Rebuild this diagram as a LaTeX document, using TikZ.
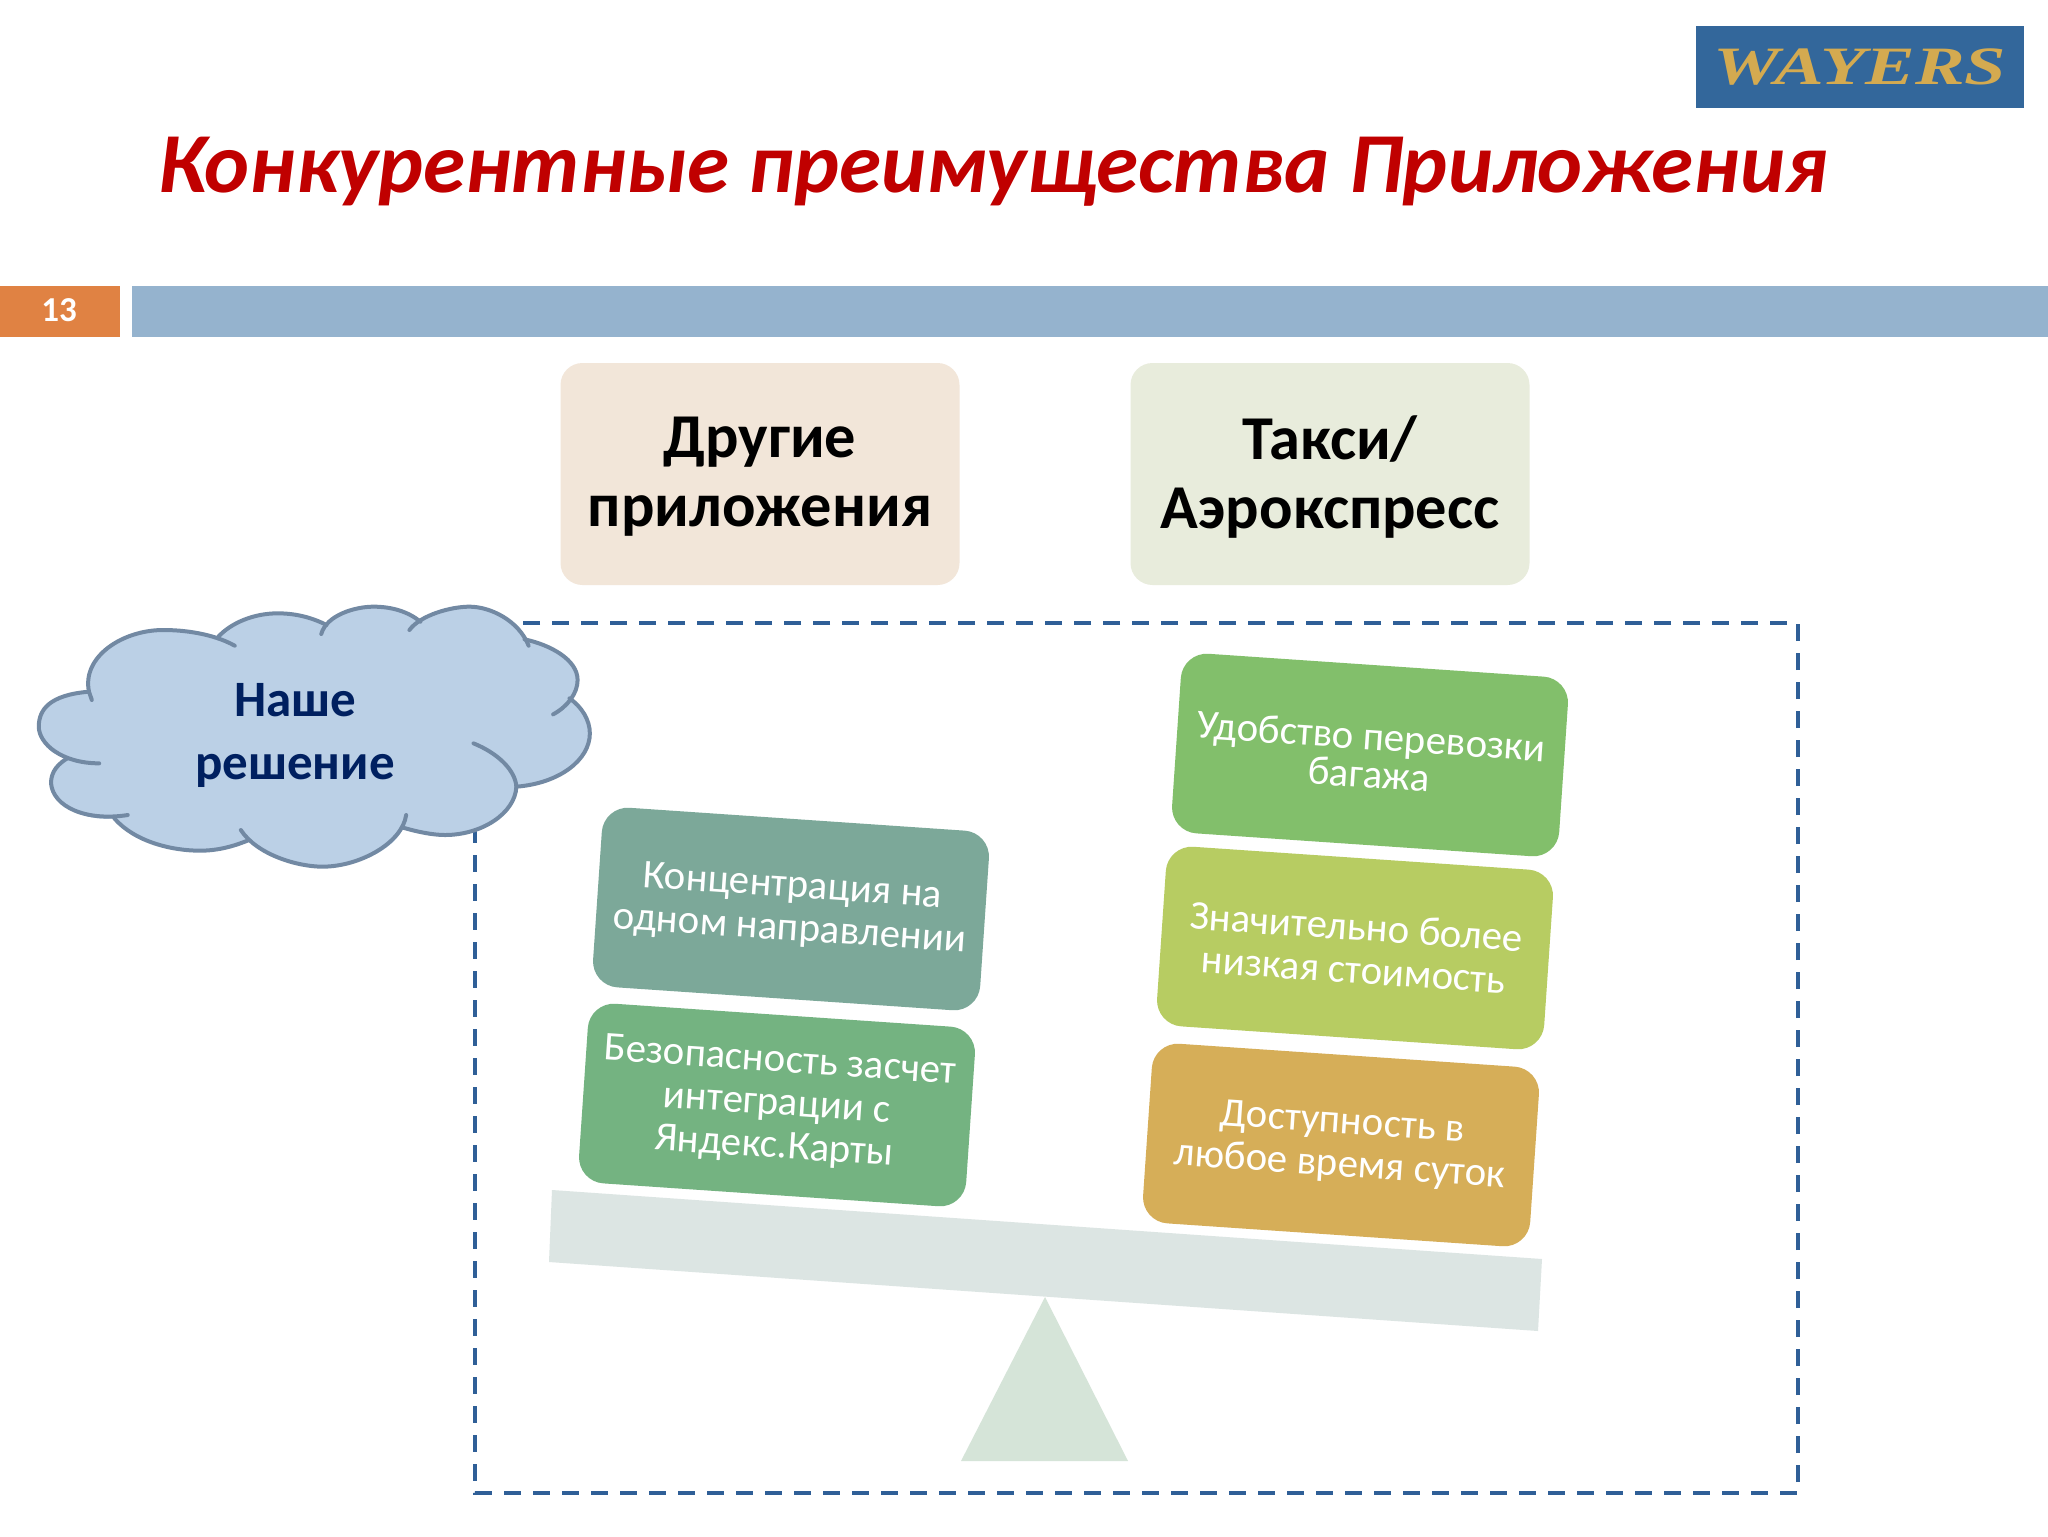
\documentclass[tikz,border=0pt]{standalone}
\usepackage{fontspec}
\setmainfont{Carlito}
\newfontfamily\logofont{Liberation Serif}
\begin{document}
\begin{tikzpicture}[x=0.5pt,y=-0.5pt,
 titletext/.style={font=\fontsize{42.7}{48}\selectfont\bfseries\itshape,text=titlered,anchor=base west,inner sep=0},
 headbox/.style={rounded corners=11pt,minimum width=199.5pt,minimum height=111pt,text width=190pt,align=center,font=\fontsize{31.2}{34.5}\selectfont\bfseries,inner sep=0},
 tiltbox/.style={rounded corners=13pt,minimum width=194pt,minimum height=90pt,text width=186pt,align=flush center,rotate=-3.9,text=white,font=\fontsize{20.4}{21.5}\selectfont,inner sep=0},
 cloudline/.style={draw=cloudedge,line width=2pt,line cap=round},
]
\definecolor{titlered}{HTML}{C00000}
\definecolor{barblue}{HTML}{95B3CE}
\definecolor{numorange}{HTML}{E08243}
\definecolor{logoblue}{HTML}{33679B}
\definecolor{logogold}{HTML}{D4AA50}
\definecolor{headA}{HTML}{F2E6D9}
\definecolor{headB}{HTML}{E8ECDC}
\definecolor{dashblue}{HTML}{2F5F97}
\definecolor{cloudfill}{HTML}{BBD0E6}
\definecolor{cloudedge}{HTML}{7289A3}
\definecolor{cloudtext}{HTML}{002060}
\definecolor{boxA}{HTML}{82BF6B}
\definecolor{boxB}{HTML}{B7CC62}
\definecolor{boxC}{HTML}{D6AE58}
\definecolor{boxD}{HTML}{7CA899}
\definecolor{boxE}{HTML}{74B381}
\definecolor{beamc}{HTML}{DCE5E3}
\definecolor{tric}{HTML}{D5E4D8}
\useasboundingbox (0,0) rectangle (2048,1536);
\fill[white] (0,0) rectangle (2048,1536);
% logo
\node[fill=logoblue,minimum width=164pt,minimum height=41pt,inner sep=0,text=logogold,font=\logofont\fontsize{27}{27}\selectfont\bfseries\itshape] (logo) at (1860,67) {\scalebox{1.38}[1]{WAYERS}};
% title
\node[titletext] (title) at (158,192) {Конкурентные преимущества Приложения};
% bar
\fill[numorange] (0,286) rectangle (120,337);
\fill[barblue] (132,286) rectangle (2048,337);
\node[text=white,font=\fontsize{17.5}{17.5}\selectfont\bfseries,inner sep=0] (num) at (59,310) {13};
% headers
\node[headbox,fill=headA] (h1) at (760,474) {\raisebox{-1.5pt}[\height][\depth]{\parbox{190pt}{\centering Другие\\приложения}}};
\node[headbox,fill=headB] (h2) at (1330,474) {\raisebox{-1.5pt}[\height][\depth]{\parbox{190pt}{\centering Такси/\\Аэрокспресс}}};
% dashed frame
\draw[dashblue,line width=2pt,dash pattern=on 8.5pt off 6pt] (475,623) rectangle (1798,1493);
% beam and triangle
\fill[beamc] (552,1190) -- (1542,1259) -- (1538,1331) -- (549,1262) -- cycle;
\fill[tric] (1045,1297) -- (1128,1461) -- (961,1461) -- cycle;
% boxes
\node[tiltbox,fill=boxA] (b1) at (1370,755) {Удобство перевозки\\[-2.5pt]багажа};
\node[tiltbox,fill=boxB] (b2) at (1355,948) {Значительно более\\низкая стоимость};
\node[tiltbox,fill=boxC] (b3) at (1341,1145) {Доступность в\\любое время суток};
\node[tiltbox,fill=boxD] (b4) at (791,909) {Концентрация на\\одном направлении};
\node[tiltbox,fill=boxE] (b5) at (777,1105) {Безопасность засчет\\интеграции с\\Яндекс.Карты};
% cloud
\begin{scope}[shift={(0,580)},x=0.2041pt,y=-0.16667pt]
\fill[cloudfill] (218,335) .. controls (120,345) and (95,390) .. (95,440)
 .. controls (95,490) and (125,525) .. (165,535)
 .. controls (130,560) and (125,590) .. (125,610)
 .. controls (130,680) and (210,725) .. (280,715)
 .. controls (330,785) and (420,812) .. (490,812)
 .. controls (540,812) and (580,795) .. (610,780)
 .. controls (650,835) and (730,860) .. (790,860)
 .. controls (880,860) and (965,810) .. (990,740)
 .. controls (1020,755) and (1060,765) .. (1090,765)
 .. controls (1180,765) and (1262,700) .. (1265,620)
 .. controls (1370,610) and (1445,540) .. (1445,460)
 .. controls (1445,420) and (1425,380) .. (1395,355)
 .. controls (1410,330) and (1415,310) .. (1415,300)
 .. controls (1415,240) and (1350,195) .. (1290,178)
 .. controls (1260,110) and (1200,80) .. (1150,80)
 .. controls (1105,80) and (1060,100) .. (1030,125)
 .. controls (1000,95) and (960,80) .. (915,80)
 .. controls (870,80) and (825,105) .. (800,135)
 .. controls (760,110) and (720,100) .. (680,100)
 .. controls (620,100) and (565,130) .. (535,170)
 .. controls (500,155) and (450,150) .. (400,150)
 .. controls (300,150) and (200,230) .. (218,335) -- cycle;
\draw[cloudline] (225,360) -- (218,335) .. controls (120,345) and (95,390) .. (95,440)
 .. controls (95,490) and (150,550) .. (243,550);
\draw[cloudline] (165,535) .. controls (130,560) and (125,590) .. (125,610)
 .. controls (130,680) and (210,725) .. (313,705);
\draw[cloudline] (280,715) .. controls (330,785) and (420,812) .. (490,812)
 .. controls (540,812) and (580,795) .. (610,780);
\draw[cloudline] (590,750) .. controls (630,825) and (730,860) .. (790,860)
 .. controls (880,860) and (985,790) .. (995,705);
\draw[cloudline] (985,742) .. controls (1020,755) and (1060,765) .. (1090,765)
 .. controls (1180,765) and (1262,700) .. (1265,620)
 .. controls (1262,570) and (1220,520) .. (1160,490);
\draw[cloudline] (1265,620) .. controls (1370,610) and (1445,540) .. (1445,460)
 .. controls (1445,420) and (1425,380) .. (1395,355);
\draw[cloudline] (1355,403) .. controls (1390,380) and (1415,340) .. (1415,300)
 .. controls (1415,240) and (1350,195) .. (1285,178);
\draw[cloudline] (1295,197) .. controls (1270,120) and (1200,80) .. (1150,80)
 .. controls (1105,80) and (1030,105) .. (1003,150);
\draw[cloudline] (1030,125) .. controls (1000,95) and (960,80) .. (915,80)
 .. controls (870,80) and (800,105) .. (787,162);
\draw[cloudline] (800,135) .. controls (760,110) and (720,100) .. (680,100)
 .. controls (620,100) and (565,130) .. (535,170);
\draw[cloudline] (575,197) .. controls (520,160) and (450,150) .. (400,150)
 .. controls (300,150) and (200,230) .. (218,335);
\end{scope}
\node[text=cloudtext,align=center,inner sep=0,font=\fontsize{25.5}{31.5}\selectfont\bfseries] (cloud) at (295,735) {Наше\\решение};
\end{tikzpicture}
\end{document}
